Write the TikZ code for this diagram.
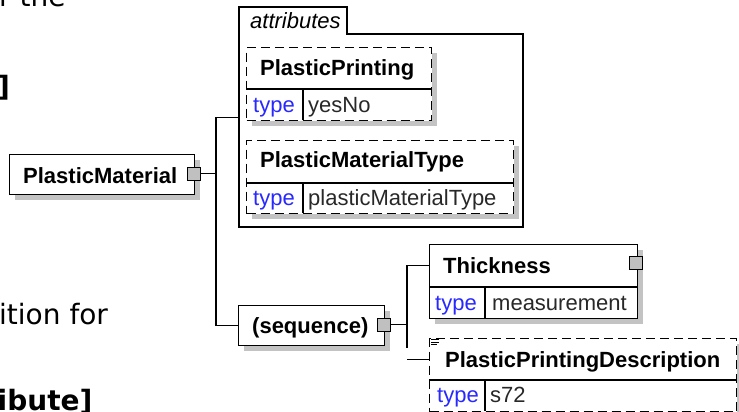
\documentclass[tikz,border=0pt]{standalone}
\usepackage{fontspec}
\setmainfont{Liberation Sans}
\newfontfamily\docfont{DejaVu Sans}
\usetikzlibrary{shadows}
\definecolor{shade}{RGB}{195,195,195}
\definecolor{conngray}{RGB}{192,192,192}
\definecolor{typeblue}{RGB}{40,40,255}
\definecolor{valgray}{RGB}{40,40,40}
\begin{document}
\begin{tikzpicture}[x=1pt,y=-1pt,
  box/.style={draw, fill=white, line width=1.3pt, inner sep=0pt, anchor=north west,
    drop shadow={shadow xshift=5pt, shadow yshift=-5pt, fill=shade, opacity=1}},
  optbox/.style={box, dash pattern=on 9pt off 5pt},
  plain/.style={inner sep=0pt, anchor=north west},
  conn/.style={draw, fill=conngray, line width=1pt, minimum size=13pt, inner sep=0pt},
  ename/.style={inner sep=0pt, anchor=base west, font=\fontsize{22}{26}\selectfont\bfseries},
  tlabel/.style={inner sep=0pt, anchor=base west, font=\fontsize{22}{26}\selectfont, text=typeblue},
  tval/.style={inner sep=0pt, anchor=base west, font=\fontsize{22}{26}\selectfont, text=valgray},
  doc/.style={inner sep=0pt, anchor=base west, font=\docfont\fontsize{28}{34}\selectfont},
  docb/.style={inner sep=0pt, anchor=base west, font=\docfont\fontsize{28}{34}\selectfont\bfseries},
  wire/.style={line width=1.3pt},
  divider/.style={line width=1.3pt}]
\useasboundingbox (0,0) rectangle (739,412);

% background documentation text fragments
\node[doc] (t1) at (-1,7) {r the};
\node[docb] (t2) at (-3,96) {]};
\node[doc] (t3) at (-1,324) {ition for};
\node[docb] (t4) at (-2.5,410) {ibute]};

% PlasticMaterial
\node[box, minimum width=185pt, minimum height=40pt] (pm) at (9,154) {};
\node[ename] (pmn) at (23,183) {PlasticMaterial};
\node[conn] (pmc) at (194,173.5) {};

% attributes group
\node[plain, minimum width=284pt, minimum height=220pt] (attrs) at (239,7) {};
\draw[wire] (239,227) -- (239,7) -- (347,7) -- (347,34) -- (523,34) -- (523,227) -- cycle;
\node[inner sep=0pt, anchor=base west, font=\fontsize{22}{26}\selectfont\itshape] (attrl) at (250,29) {attributes};

% PlasticPrinting
\node[optbox, minimum width=185pt, minimum height=73pt] (pp) at (246,47) {};
\draw[divider] (246,89) -- (431,89) (303,89) -- (303,120);
\node[ename] (ppn) at (260,76) {PlasticPrinting};
\node[tlabel] (ppt) at (253,112) {type};
\node[tval] (ppv) at (308,112) {yesNo};

% PlasticMaterialType
\node[optbox, minimum width=267pt, minimum height=73pt] (pmt) at (246,140) {};
\draw[divider] (246,183) -- (513,183) (303,183) -- (303,213);
\node[ename] (pmtn) at (260,167) {PlasticMaterialType};
\node[tlabel] (pmtt) at (253,205) {type};
\node[tval] (pmtv) at (308,205) {plasticMaterialType};

% sequence
\node[box, minimum width=146pt, minimum height=40pt] (seq) at (238,305) {};
\node[ename] (seqn) at (252,333) {(sequence)};
\node[conn] (seqc) at (384,324.5) {};

% Thickness
\node[box, minimum width=208pt, minimum height=74pt] (th) at (429,244) {};
\node[plain, minimum width=208pt, minimum height=43pt] (thn) at (429,244) {};
\draw[divider] (429,287) -- (637,287) (485,287) -- (485,318);
\node[ename] (thl) at (443,273) {Thickness};
\node[tlabel] (tht) at (435,310) {type};
\node[tval] (thv) at (492,310) {measurement};
\node[conn] (thc) at (636,263) {};

% PlasticPrintingDescription
\node[optbox, minimum width=307pt, minimum height=73pt] (pd) at (429,338) {};
\node[plain, minimum width=307pt, minimum height=42pt] (pdn) at (429,338) {};
\draw[divider] (429,380) -- (736,380) (485,380) -- (485,411);
\node[ename] (pdl) at (445,367) {PlasticPrintingDescription};
\node[tlabel] (pdt) at (437,402) {type};
\node[tval] (pdv) at (490,402) {s72};
\draw[line width=0.7pt] (431,339.5) -- (439,339.5) (431,342) -- (439,342) (431,344.5) -- (437,344.5);

% connectors
\coordinate (j1) at (216,173.5);
\draw[wire] (pmc.east) -- (j1);
\draw[wire] (attrs.west) -- (attrs.west -| j1) -- (seq.west -| j1) -- (seq.west);
\coordinate (j2) at (407,324.5);
\coordinate (j2end) at (407,348);
\draw[wire] (seqc.east) -- (j2);
\draw[wire] (thn.west) -- (thn.west -| j2) -- (j2end);
\draw[wire] (j2 |- pdn.west) -- (pdn.west);
\end{tikzpicture}
\end{document}
